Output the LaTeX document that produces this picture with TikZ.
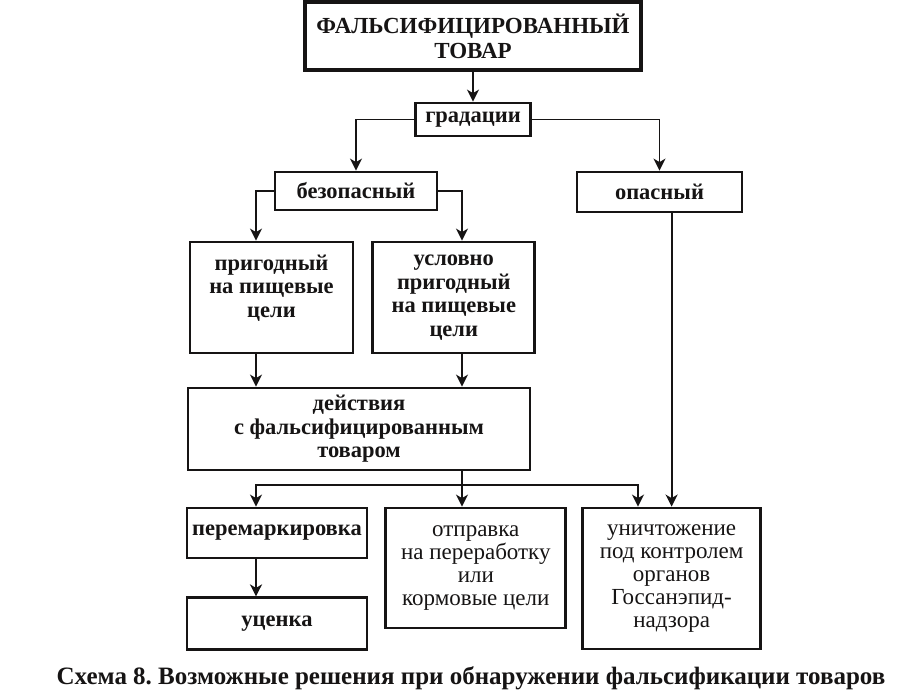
\documentclass[tikz,border=0pt]{standalone}
\usepackage{fontspec}
\setmainfont{Liberation Serif}
\usetikzlibrary{arrows.meta,positioning}
\definecolor{ink}{RGB}{22,20,20}
\frenchspacing

\begin{document}
\begin{tikzpicture}[x=1pt,y=-1pt,
  node distance=16pt and 16pt,
  box/.style={draw=ink,line width=2.8pt,align=center,inner sep=2pt,text=ink,
    font=\bfseries\fontsize{22.5}{23.5}\selectfont},
  plainbox/.style={box,font=\fontsize{23}{22.8}\selectfont},
  head/.style={box,line width=3.2pt,font=\bfseries\fontsize{23}{25}\selectfont},
  caption/.style={text=ink,font=\bfseries\fontsize{25}{27}\selectfont},
  arrow/.style={-{Stealth[length=12pt,width=12pt,inset=3.5pt]},line width=1.9pt,draw=ink}]
  \useasboundingbox (0,0) rectangle (917,699);
  % gradations
  \node[head,minimum width=336pt,minimum height=68pt] (title) at (473,36)
    {ФАЛЬСИФИЦИРОВАННЫЙ\\ТОВАР};
  \node[box,minimum width=115pt,minimum height=33pt,below=30pt of title] (grad) {градации};
  \node[box,minimum width=162pt,minimum height=38pt] (safe) at (356,191) {безопасный};
  \node[box,minimum width=165pt,minimum height=40pt] (danger) at (659.5,192) {опасный};
  \node[box,minimum width=163pt,minimum height=111pt] (fit) at (271.5,297.5)
    {пригодный\\на пищевые\\цели\\~};
  \node[box,minimum width=162pt,minimum height=111pt,right=17pt of fit] (cond)
    {условно\\пригодный\\на пищевые\\цели};
  \node[box,minimum width=342pt,minimum height=82pt] (act) at (359,429)
    {действия\\с фальсифицированным\\товаром};
  % decisions
  \node[box,minimum width=180pt,minimum height=50pt] (remark) at (277,533) {перемаркировка};
  \node[box,minimum width=180pt,minimum height=52pt,below=37pt of remark] (disc) {уценка};
  \node[plainbox,minimum width=180pt,minimum height=120pt,
    right=16pt of remark.north east,anchor=north west] (recycle)
    {отправка\\на переработку\\или\\кормовые цели};
  \node[plainbox,minimum width=178pt,minimum height=141pt,
    right=14pt of recycle.north east,anchor=north west] (destroy)
    {уничтожение\\под контролем\\органов\\Госсанэпид-\\надзора};
  \node[caption] (cap) at (471,678)
    {Схема 8. Возможные решения при обнаружении фальсификации товаров};
  \coordinate (lcol) at (256,0);
  \coordinate (rcol) at (462,0);
  \coordinate (dcol) at (638,0);
  \coordinate (split) at (462,485);
  \draw[arrow] (title) -- (grad);
  \draw[arrow] (grad.west) -| (safe.north);
  \draw[arrow] (grad.east) -| (danger.north);
  \draw[arrow] (safe.west) -| (lcol |- fit.north);
  \draw[arrow] (safe.east) -| (rcol |- cond.north);
  \draw[arrow] (lcol |- fit.south) -- (lcol |- act.north);
  \draw[arrow] (rcol |- cond.south) -- (rcol |- act.north);
  \draw[arrow] (rcol |- act.south) -- (rcol |- recycle.north);
  \draw[arrow] (split) -| (lcol |- remark.north);
  \draw[arrow] (split) -| (dcol |- destroy.north);
  \draw[arrow] (danger.south -| destroy.north) -- (destroy.north);
  \draw[arrow] (lcol |- remark.south) -- (lcol |- disc.north);
\end{tikzpicture}
\end{document}
